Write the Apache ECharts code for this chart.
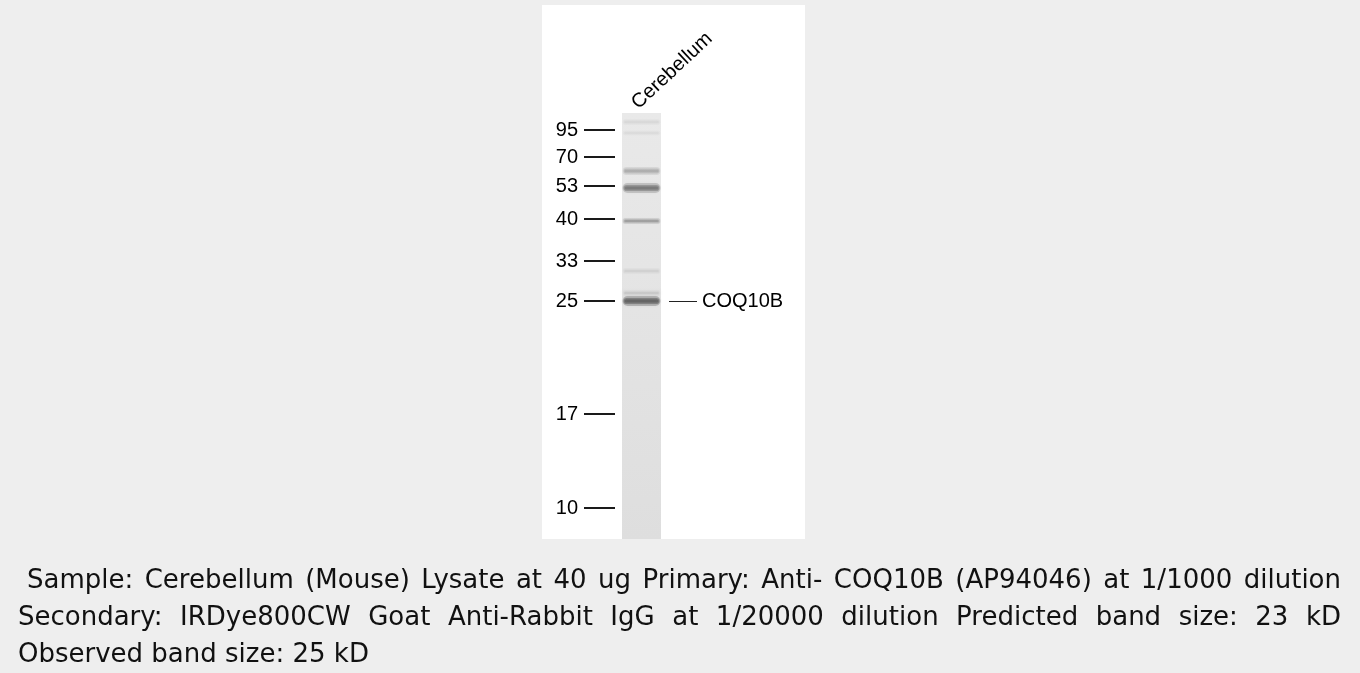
<!DOCTYPE html>
<html><head><meta charset="utf-8">
<script src="https://cdn.jsdelivr.net/npm/echarts@6/dist/echarts.min.js"></script>
<style>html,body{margin:0;padding:0;background:#eeeeee;}#c{width:1360px;height:673px;}</style>
</head><body><div id="c"></div>
<script>
const laneNames = ['Cerebellum'];
const markerKDa = ['95', '70', '53', '40', '33', '25', '17', '10'];
const markerMigration = [17, 44, 73, 106, 148, 188, 301, 395];   // distance from lane top
const laneLength = [426];
const bandMigration = [9, 20, 58, 75, 108, 158, 180, 188];
const bandIntensity = [0.08, 0.06, 0.32, 0.66, 0.4, 0.11, 0.14, 0.86];
const bandSpread = [6, 5, 8, 10, 6, 6, 6, 10];
const targetName = 'COQ10B';
const targetMigration = [188];
const captionLines = [
  'Sample: Cerebellum (Mouse) Lysate at 40 ug Primary: Anti- COQ10B (AP94046) at 1/1000 dilution',
  'Secondary: IRDye800CW Goat Anti-Rabbit IgG at 1/20000 dilution Predicted band size: 23 kD',
  'Observed band size: 25 kD'
];

const bandData = bandMigration.map((m, i) => [0, m, bandIntensity[i], bandSpread[i]]);

const capFontSize = 26, capFamily = '"DejaVu Sans"';
const ctx = document.createElement('canvas').getContext('2d');
ctx.font = capFontSize + 'px ' + capFamily;
function captionEls(text, x0, x1, y, justify) {
  const words = text.split(' ');
  const widths = words.map(w => ctx.measureText(w).width);
  const total = widths.reduce((a, b) => a + b, 0);
  const gap = justify ? (x1 - x0 - total) / (words.length - 1) : ctx.measureText(' ').width;
  let x = x0;
  return words.map((w, i) => {
    const el = {type: 'text', x: x, y: y, z: 10,
      style: {text: w, fontSize: capFontSize, fontFamily: capFamily, fill: '#111', verticalAlign: 'middle'}};
    x += widths[i] + gap;
    return el;
  });
}

const chart = echarts.init(document.getElementById('c'));
const labelFont = {fontSize: 20, fontFamily: '"Liberation Sans", Arial', color: '#000'};
chart.setOption({
  backgroundColor: '#eeeeee',
  animation: false,
  grid: {left: 622, right: 699, top: 113, bottom: 134},
  xAxis: {
    type: 'category', data: laneNames, position: 'top',
    axisLine: {show: false}, axisTick: {show: false},
    axisLabel: Object.assign({rotate: 43, margin: 0, verticalAlign: 'bottom'}, labelFont)
  },
  yAxis: [{
    type: 'value', inverse: true, min: 0, max: 426, position: 'left', offset: 7,
    splitLine: {show: false}, axisLine: {show: false},
    axisTick: {show: true, length: 31, customValues: markerMigration, lineStyle: {color: '#000', width: 1.8}},
    axisLabel: Object.assign({customValues: markerMigration, margin: 37,
      formatter: v => markerKDa[markerMigration.indexOf(v)]}, labelFont)
  }, {
    type: 'value', inverse: true, min: 0, max: 426, position: 'right', offset: 8,
    splitLine: {show: false}, axisLine: {show: false},
    axisTick: {show: true, length: 28, customValues: targetMigration, lineStyle: {color: '#222', width: 1}},
    axisLabel: Object.assign({customValues: targetMigration, margin: 33, formatter: () => targetName}, labelFont)
  }],
  graphic: {elements: [
    {type: 'rect', z: -10, shape: {x: 542, y: 5, width: 263, height: 534}, style: {fill: '#ffffff'}}
  ].concat(
    captionEls(captionLines[0], 27, 1341, 581, true),
    captionEls(captionLines[1], 18, 1341, 618, true),
    captionEls(captionLines[2], 18, 0, 655, false)
  )},
  series: [{
    type: 'bar', data: laneLength, barWidth: '100%', silent: true, z: 1,
    itemStyle: {color: new echarts.graphic.LinearGradient(0, 0, 0, 1, [
      {offset: 0, color: '#e9e9e9'}, {offset: 1, color: '#dedede'}])}
  }, {
    type: 'custom', data: bandData, silent: true, z: 5,
    encode: {x: 0, y: 1},
    renderItem: function (params, api) {
      const cs = params.coordSys;
      const c = api.coord([api.value(0), api.value(1)]);
      const c2 = api.coord([api.value(0), api.value(1) + api.value(3)]);
      const w = cs.width * 0.97, h = Math.abs(c2[1] - c[1]);
      const a = api.value(2);
      const layers = [[1.0, 1.0, 0.3], [0.95, 0.62, 0.4], [0.9, 0.32, 0.4]];
      return {type: 'group', children: layers.map(L => {
        const lw = w * L[0], lh = h * L[1];
        const col = 'rgba(60,60,60,' + (a * L[2]).toFixed(3) + ')';
        return {type: 'rect', shape: {x: c[0] - lw / 2, y: c[1] - lh / 2, width: lw, height: lh, r: lh / 2},
          style: {fill: col, shadowBlur: 3, shadowColor: col}};
      })};
    }
  }]
});
</script></body></html>
